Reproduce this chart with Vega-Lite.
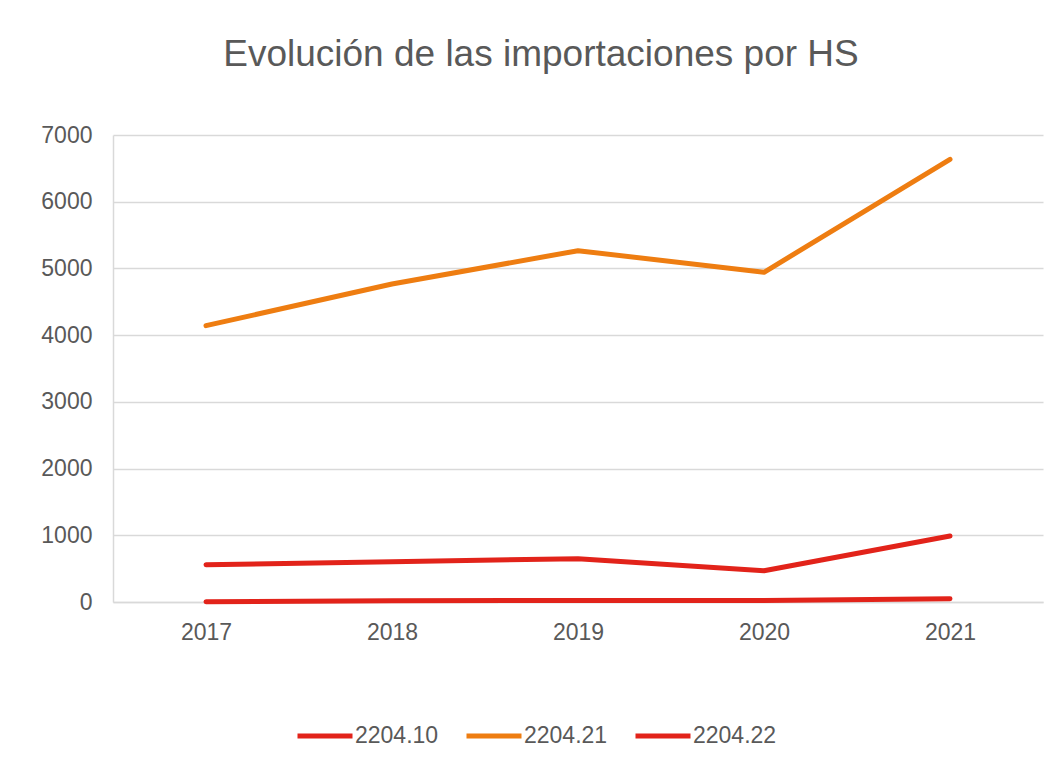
{
  "$schema": "https://vega.github.io/schema/vega-lite/v6.json",
  "width": 930,
  "height": 467,
  "autosize": {"type": "none"},
  "padding": {"left": 113, "top": 135, "right": 20, "bottom": 165},
  "background": "white",
  "title": {
    "text": "Evolución de las importaciones por HS",
    "anchor": "middle",
    "fontSize": 37,
    "font": "Liberation Sans",
    "fontWeight": "normal",
    "color": "#595959",
    "baseline": "alphabetic",
    "offset": 21,
    "dx": -37
  },
  "config": {
    "font": "Liberation Sans",
    "view": {"stroke": null}
  },
  "data": {
    "values": [
      {"year": "2017", "hs": "2204.10", "value": 5},
      {"year": "2018", "hs": "2204.10", "value": 20},
      {"year": "2019", "hs": "2204.10", "value": 22},
      {"year": "2020", "hs": "2204.10", "value": 22},
      {"year": "2021", "hs": "2204.10", "value": 48},
      {"year": "2017", "hs": "2204.21", "value": 4142},
      {"year": "2018", "hs": "2204.21", "value": 4767},
      {"year": "2019", "hs": "2204.21", "value": 5266},
      {"year": "2020", "hs": "2204.21", "value": 4942},
      {"year": "2021", "hs": "2204.21", "value": 6636},
      {"year": "2017", "hs": "2204.22", "value": 559},
      {"year": "2018", "hs": "2204.22", "value": 604},
      {"year": "2019", "hs": "2204.22", "value": 649},
      {"year": "2020", "hs": "2204.22", "value": 469},
      {"year": "2021", "hs": "2204.22", "value": 989}
    ]
  },
  "mark": {"type": "line", "strokeWidth": 5, "strokeCap": "round", "strokeJoin": "round"},
  "encoding": {
    "x": {
      "field": "year",
      "type": "ordinal",
      "scale": {"type": "point", "padding": 0.5},
      "axis": {
        "title": null,
        "labelAngle": 0,
        "labelFontSize": 23,
        "labelColor": "#595959",
        "labelPadding": 19,
        "ticks": false,
        "domainColor": "#d9d9d9",
        "domainWidth": 1.5,
        "grid": false
      }
    },
    "y": {
      "field": "value",
      "type": "quantitative",
      "scale": {"domain": [0, 7000], "nice": false},
      "axis": {
        "title": null,
        "values": [0, 1000, 2000, 3000, 4000, 5000, 6000, 7000],
        "format": "d",
        "labelFontSize": 23,
        "labelColor": "#595959",
        "labelPadding": 21,
        "ticks": false,
        "domainColor": "#d9d9d9",
        "domainWidth": 1.5,
        "gridColor": "#d9d9d9",
        "gridWidth": 1.5
      }
    },
    "color": {
      "field": "hs",
      "type": "nominal",
      "scale": {"domain": ["2204.10", "2204.21", "2204.22"], "range": ["#e2231a", "#ee7d11", "#e2231a"]},
      "legend": {
        "title": null,
        "orient": "none",
        "direction": "horizontal",
        "legendX": 182,
        "legendY": 571,
        "symbolType": "stroke",
        "symbolSize": 3025,
        "symbolStrokeWidth": 5,
        "labelFontSize": 23,
        "labelColor": "#595959",
        "labelOffset": 0,
        "columnPadding": 17
      }
    }
  }
}
